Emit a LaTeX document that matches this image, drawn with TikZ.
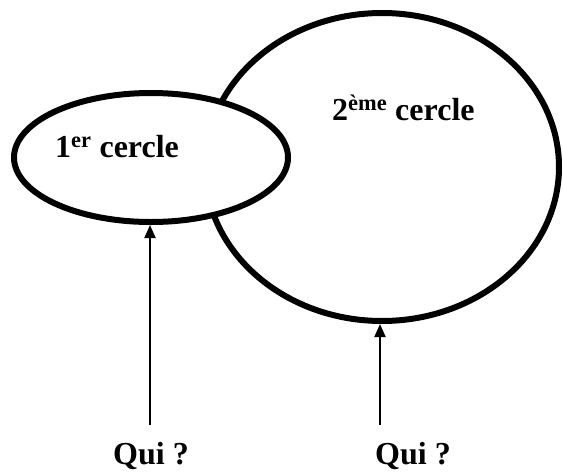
\documentclass[tikz,border=0pt]{standalone}
\usepackage{fontspec}
\setmainfont{Liberation Serif}
\usetikzlibrary{shapes.geometric,arrows.meta}
\tikzset{
  circ/.style={draw, ellipse, line width=6pt, inner sep=0pt},
  lbl/.style={anchor=base west, inner sep=0pt, font=\fontsize{32}{38}\selectfont\bfseries},
  arr/.style={line width=2pt, -{Triangle[length=13pt,width=11pt]}}
}
\begin{document}
\begin{tikzpicture}[x=1pt,y=-1pt]
\useasboundingbox (0,0) rectangle (563,472);
\node[circ, minimum width=354pt, minimum height=308pt] (big) at (382,167) {};
\node[circ, fill=white, minimum width=274pt, minimum height=129pt] (small) at (151,157.5) {};
\node[lbl] (t1) at (55,157) {1\textsuperscript{er} cercle};
\node[lbl] (t2) at (332,120) {2\textsuperscript{ème} cercle};
\node[lbl] (q1) at (113,464) {Qui ?};
\node[lbl] (q2) at (375,464) {Qui ?};
\coordinate (a1) at (150,425);
\coordinate (a2) at (380,425);
\draw[arr] (a1) -- (a1 |- small.south);
\draw[arr] (a2) -- (a2 |- big.south);
\end{tikzpicture}
\end{document}
